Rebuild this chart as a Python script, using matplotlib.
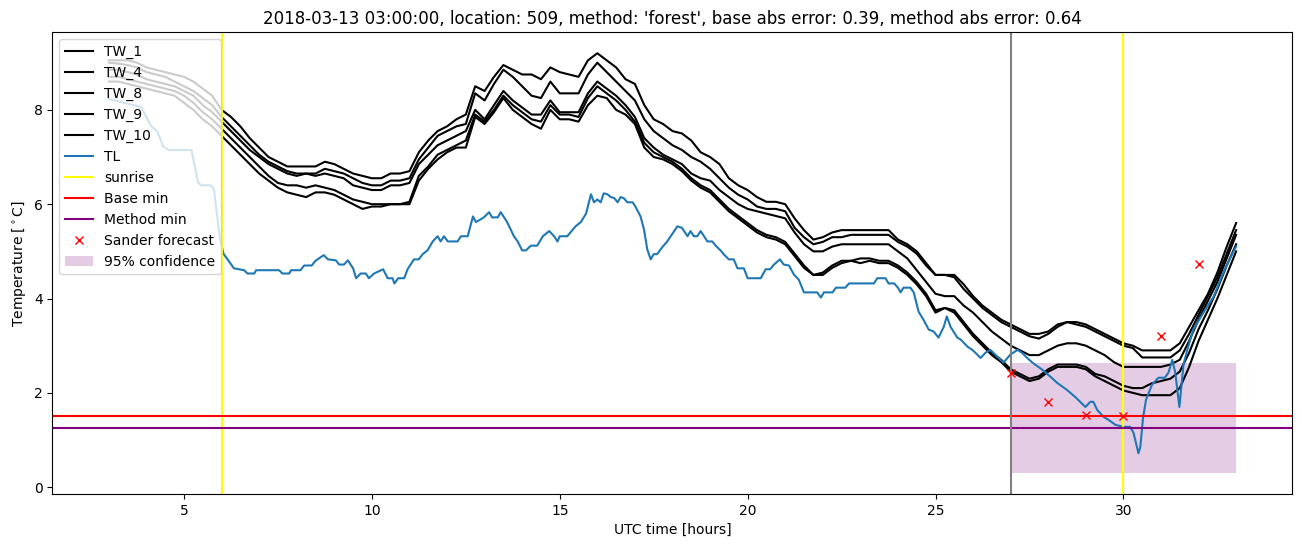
import numpy as np
import matplotlib
matplotlib.use('Agg')
import matplotlib.pyplot as plt

# time grid of the TW sensors, every quarter hour from 03:00 to 33:00
tw_time = np.arange(3.0, 33.01, 0.25)

tw_names = ['TW_1', 'TW_4', 'TW_8', 'TW_9', 'TW_10']

TW_1 = [9.05, 9.05, 9.05, 9.0, 8.9, 8.85, 8.8, 8.75,
        8.7, 8.6, 8.45, 8.3, 8.0, 7.85, 7.65, 7.40,
        7.20, 7.00, 6.90, 6.80, 6.80, 6.80, 6.80, 6.90,
        6.85, 6.75, 6.65, 6.60, 6.55, 6.55, 6.65, 6.65,
        6.70, 7.10, 7.35, 7.55, 7.65, 7.80, 7.90, 8.50,
        8.40, 8.70, 8.95, 8.85, 8.75, 8.75, 8.65, 8.90,
        8.80, 8.75, 8.70, 9.05, 9.20, 9.05, 8.90, 8.65,
        8.55, 8.10, 7.80, 7.70, 7.55, 7.50, 7.35, 7.10,
        7.00, 6.85, 6.55, 6.40, 6.30, 6.15, 6.05, 6.05,
        6.00, 5.70, 5.45, 5.25, 5.30, 5.40, 5.45, 5.45,
        5.45, 5.45, 5.45, 5.45, 5.25, 5.15, 5.00, 4.75,
        4.50, 4.50, 4.50, 4.30, 4.05, 3.85, 3.70, 3.55,
        3.45, 3.35, 3.25, 3.25, 3.30, 3.45, 3.50, 3.50,
        3.45, 3.35, 3.25, 3.15, 3.05, 3.00, 2.90, 2.90,
        2.90, 2.90, 3.05, 3.40, 3.75, 4.10, 4.55, 5.10,
        5.60]

TW_4 = [9.0, 8.98, 8.95, 8.9, 8.8, 8.75, 8.7, 8.6,
        8.5, 8.4, 8.25, 8.1, 7.85, 7.65, 7.45, 7.25,
        7.05, 6.90, 6.80, 6.70, 6.65, 6.65, 6.65, 6.75,
        6.70, 6.65, 6.55, 6.45, 6.40, 6.40, 6.50, 6.50,
        6.55, 6.95, 7.20, 7.45, 7.55, 7.65, 7.70, 8.35,
        8.20, 8.55, 8.85, 8.70, 8.50, 8.30, 8.25, 8.60,
        8.35, 8.35, 8.35, 8.75, 9.00, 8.80, 8.60, 8.40,
        8.20, 7.80, 7.55, 7.40, 7.25, 7.15, 7.00, 6.90,
        6.75, 6.55, 6.35, 6.20, 6.10, 5.95, 5.90, 5.90,
        5.85, 5.50, 5.30, 5.15, 5.20, 5.30, 5.30, 5.35,
        5.35, 5.35, 5.35, 5.35, 5.20, 5.10, 4.95, 4.70,
        4.50, 4.50, 4.45, 4.20, 4.00, 3.80, 3.65, 3.50,
        3.40, 3.30, 3.20, 3.15, 3.25, 3.40, 3.50, 3.45,
        3.40, 3.30, 3.20, 3.10, 3.00, 2.95, 2.75, 2.75,
        2.75, 2.75, 2.90, 3.25, 3.65, 4.05, 4.45, 4.95,
        5.45]

TW_8 = [8.85, 8.85, 8.8, 8.75, 8.65, 8.6, 8.55, 8.5,
        8.4, 8.3, 8.1, 7.95, 7.75, 7.55, 7.35, 7.15,
        7.00, 6.85, 6.75, 6.65, 6.60, 6.65, 6.60, 6.65,
        6.60, 6.55, 6.40, 6.35, 6.30, 6.30, 6.40, 6.40,
        6.45, 6.85, 7.05, 7.25, 7.35, 7.45, 7.55, 8.00,
        7.80, 8.10, 8.40, 8.20, 8.05, 7.90, 7.90, 8.20,
        7.95, 7.95, 7.95, 8.35, 8.60, 8.45, 8.30, 8.10,
        7.85, 7.40, 7.20, 7.05, 6.95, 6.85, 6.65, 6.55,
        6.50, 6.30, 6.15, 6.00, 5.90, 5.85, 5.80, 5.75,
        5.70, 5.40, 5.15, 5.00, 5.00, 5.10, 5.15, 5.15,
        5.15, 5.15, 5.15, 5.15, 5.00, 4.85, 4.60, 4.35,
        4.10, 4.05, 4.05, 3.85, 3.70, 3.50, 3.30, 3.15,
        3.00, 2.90, 2.80, 2.80, 2.90, 3.00, 3.05, 3.05,
        3.00, 2.90, 2.80, 2.65, 2.55, 2.55, 2.55, 2.55,
        2.55, 2.60, 2.70, 3.10, 3.55, 3.95, 4.35, 4.85,
        5.35]

TW_9 = [8.7, 8.7, 8.65, 8.6, 8.55, 8.5, 8.45, 8.4,
        8.3, 8.15, 7.95, 7.8, 7.6, 7.40, 7.20, 7.00,
        6.80, 6.60, 6.45, 6.40, 6.40, 6.35, 6.40, 6.35,
        6.30, 6.20, 6.10, 6.05, 6.00, 6.00, 6.00, 6.00,
        6.05, 6.60, 6.80, 7.05, 7.15, 7.25, 7.35, 7.90,
        7.75, 8.00, 8.30, 8.10, 7.95, 7.80, 7.75, 8.10,
        7.90, 7.90, 7.85, 8.25, 8.50, 8.35, 8.20, 8.00,
        7.75, 7.30, 7.10, 7.00, 6.90, 6.75, 6.55, 6.40,
        6.30, 6.10, 5.90, 5.75, 5.60, 5.45, 5.35, 5.30,
        5.20, 4.95, 4.70, 4.50, 4.55, 4.70, 4.80, 4.80,
        4.85, 4.85, 4.80, 4.80, 4.70, 4.55, 4.35, 4.10,
        3.75, 3.80, 3.75, 3.50, 3.25, 3.05, 2.85, 2.70,
        2.50, 2.40, 2.30, 2.35, 2.50, 2.60, 2.60, 2.60,
        2.55, 2.40, 2.35, 2.25, 2.15, 2.10, 2.10, 2.20,
        2.25, 2.30, 2.45, 2.85, 3.35, 3.75, 4.20, 4.70,
        5.15]

TW_10 = [8.6, 8.6, 8.55, 8.5, 8.45, 8.4, 8.35, 8.3,
         8.15, 8.0, 7.8, 7.65, 7.45, 7.25, 7.05, 6.85,
         6.65, 6.50, 6.35, 6.25, 6.20, 6.15, 6.25, 6.25,
         6.20, 6.10, 6.00, 5.90, 5.95, 5.95, 6.00, 6.00,
         6.00, 6.50, 6.75, 6.95, 7.10, 7.20, 7.20, 7.85,
         7.70, 7.95, 8.25, 8.00, 7.85, 7.70, 7.60, 8.00,
         7.80, 7.80, 7.75, 8.10, 8.30, 8.25, 8.00, 7.90,
         7.70, 7.20, 7.00, 6.95, 6.85, 6.70, 6.50, 6.35,
         6.25, 6.05, 5.85, 5.70, 5.55, 5.40, 5.30, 5.25,
         5.15, 4.90, 4.65, 4.50, 4.50, 4.65, 4.75, 4.80,
         4.75, 4.80, 4.75, 4.75, 4.65, 4.50, 4.30, 4.05,
         3.70, 3.80, 3.70, 3.45, 3.20, 3.00, 2.80, 2.65,
         2.45, 2.35, 2.25, 2.30, 2.45, 2.55, 2.55, 2.55,
         2.50, 2.35, 2.25, 2.15, 2.05, 2.00, 1.95, 1.95,
         1.95, 1.95, 2.10, 2.55, 3.10, 3.55, 4.00, 4.50,
         5.00]

# air temperature TL
tl_time = [3.0, 3.2, 3.86, 4.12, 4.3, 4.44, 4.6, 5.2, 5.37, 5.45, 5.72, 5.8, 5.95, 6.05,
           6.33, 6.6, 6.69, 6.87, 6.92, 7.53, 7.62, 7.8, 7.85, 8.1, 8.2, 8.4, 8.5, 8.72,
           8.83, 9.04, 9.13, 9.26, 9.36, 9.5, 9.58, 9.7, 9.84, 9.92, 10.06, 10.3, 10.42,
           10.55, 10.6, 10.7, 10.86, 10.95, 11.12, 11.25, 11.35, 11.48, 11.62, 11.75,
           11.83, 11.92, 12.02, 12.28, 12.37, 12.55, 12.69, 12.77, 12.98, 13.12, 13.2,
           13.35, 13.43, 13.6, 13.78, 13.88, 14.0, 14.1, 14.23, 14.4, 14.55, 14.72,
           14.85, 14.94, 15.0, 15.2, 15.42, 15.56, 15.7, 15.83, 15.91, 16.0, 16.09,
           16.17, 16.27, 16.36, 16.45, 16.54, 16.62, 16.7, 16.8, 16.94, 17.02, 17.15,
           17.24, 17.33, 17.42, 17.5, 17.59, 17.73, 17.86, 18.13, 18.25, 18.4, 18.48,
           18.57, 18.66, 18.75, 18.93, 19.06, 19.15, 19.28, 19.36, 19.5, 19.63, 19.73,
           19.9, 20.0, 20.35, 20.48, 20.6, 20.7, 20.86, 20.96, 21.1, 21.23, 21.36, 21.5,
           21.85, 21.95, 22.03, 22.26, 22.35, 22.6, 22.7, 23.36, 23.45, 23.67, 23.75,
           23.9, 24.0, 24.07, 24.15, 24.33, 24.42, 24.55, 24.68, 24.82, 24.95, 25.08,
           25.22, 25.3, 25.4, 25.58, 25.67, 25.85, 25.98, 26.06, 26.2, 26.33, 26.46,
           26.64, 26.81, 26.99, 27.18, 27.3, 27.44, 27.58, 27.84, 28.06, 28.24, 28.5,
           28.72, 28.99, 29.12, 29.2, 29.3, 29.47, 29.6, 29.79, 30.0, 30.18, 30.27,
           30.4, 30.45, 30.52, 30.6, 30.76, 30.93, 31.1, 31.2, 31.3, 31.38, 31.49,
           31.6, 31.7, 31.86, 32.13, 32.4, 32.66, 32.9, 33.0]
TL = [8.23, 8.19, 8.06, 7.66, 7.53, 7.23, 7.15, 7.15, 6.47, 6.4, 6.4, 6.3, 5.3, 4.95,
      4.64, 4.6, 4.53, 4.53, 4.6, 4.6, 4.53, 4.53, 4.6, 4.6, 4.7, 4.7, 4.8, 4.92,
      4.83, 4.81, 4.72, 4.72, 4.81, 4.64, 4.43, 4.53, 4.53, 4.43, 4.53, 4.62, 4.43,
      4.43, 4.32, 4.43, 4.43, 4.62, 4.83, 4.83, 4.94, 5.02, 5.21, 5.32,
      5.21, 5.32, 5.21, 5.21, 5.32, 5.32, 5.74, 5.62, 5.72, 5.83, 5.72,
      5.72, 5.83, 5.62, 5.32, 5.21, 5.02, 5.02, 5.12, 5.12, 5.32, 5.43,
      5.32, 5.21, 5.32, 5.32, 5.53, 5.62, 5.8, 6.21, 6.04, 6.1, 6.04,
      6.23, 6.21, 6.15, 6.13, 6.04, 6.15, 6.13, 6.04, 6.04, 5.94, 5.74,
      5.47, 5.04, 4.83, 4.94, 4.94, 5.09, 5.21, 5.53, 5.5, 5.32, 5.43,
      5.32, 5.32, 5.43, 5.21, 5.21, 5.12, 5.02, 4.94, 4.83, 4.83, 4.64,
      4.64, 4.43, 4.43, 4.62, 4.62, 4.72, 4.83, 4.72, 4.7, 4.51, 4.4, 4.13,
      4.13, 4.02, 4.13, 4.13, 4.23, 4.23, 4.32, 4.32, 4.43, 4.43, 4.32,
      4.32, 4.23, 4.13, 4.23, 4.23, 4.13, 3.72, 3.55, 3.34, 3.3, 3.17,
      3.4, 3.62, 3.4, 3.17, 3.13, 2.98, 2.91, 2.85, 2.74, 2.85, 2.91,
      2.77, 2.64, 2.81, 2.91, 2.85, 2.74, 2.64, 2.49, 2.34, 2.21, 2.06,
      1.91, 1.7, 1.81, 1.81, 1.64, 1.49, 1.43, 1.32, 1.28, 1.28, 1.15,
      0.72, 0.85, 1.45, 1.85, 2.17, 2.32, 2.32, 2.43, 2.7, 2.43, 1.7,
      2.6, 2.91, 3.34, 3.7, 4.04, 4.55, 4.95, 5.1]

sander_time = [27, 28, 29, 30, 31, 32]
sander_forecast = [2.42, 1.8, 1.53, 1.51, 3.2, 4.74]

sunrise = [6, 30]
forecast_start = 27
base_min = 1.5
method_min = 1.25
conf_time = [27, 33]
conf_low = [0.3, 0.3]
conf_high = [2.63, 2.63]

title = "2018-03-13 03:00:00, location: 509, method: 'forest', base abs error: 0.39, method abs error: 0.64"

fig, ax = plt.subplots(figsize=(13.02, 5.47))
fig.subplots_adjust(left=0.0403, right=0.9927, top=0.941, bottom=0.0969)

for name, vals in zip(tw_names, [TW_1, TW_4, TW_8, TW_9, TW_10]):
    ax.plot(tw_time, vals, color='black', label=name)
ax.plot(tl_time, TL, label='TL')
ax.axvline(sunrise[0], color='yellow', label='sunrise')
ax.axvline(sunrise[1], color='yellow')
ax.axhline(base_min, color='red', label='Base min')
ax.axhline(method_min, color='purple', label='Method min')
ax.axvline(forecast_start, color='gray')
ax.plot(sander_time, sander_forecast, 'x', color='red', linestyle='none', label='Sander forecast')
ax.fill_between(conf_time, conf_low, conf_high, color='purple', alpha=0.2, linewidth=0,
                label='95% confidence')

ax.set_title(title)
ax.set_xlabel('UTC time [hours]')
ax.set_ylabel(r'Temperature [$^\circ$C]')
ax.legend(loc='upper left')

plt.savefig('out.png', dpi=100)
